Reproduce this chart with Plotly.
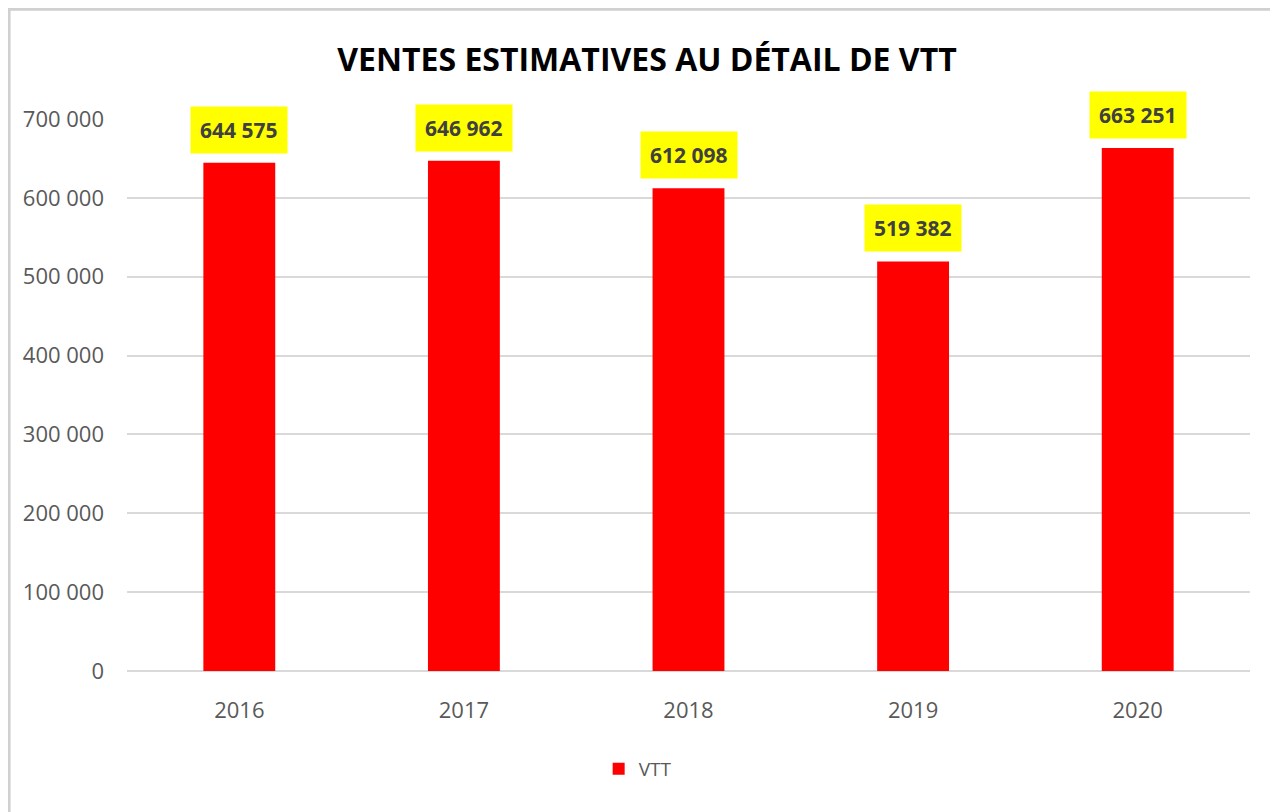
import plotly.graph_objects as go

years = ["2016", "2017", "2018", "2019", "2020"]
ventes = [644575, 646962, 612098, 519382, 663251]
y_ticks = [0, 100000, 200000, 300000, 400000, 500000, 600000, 700000]

FONT = "Open Sans, Noto Sans, sans-serif"
GRAY = "#595959"


def fmt(v):
    return f"{v:,}".replace(",", " ")


fig = go.Figure()
fig.add_trace(
    go.Bar(
        x=years,
        y=ventes,
        name="VTT",
        marker={"color": "#ff0000", "line": {"width": 0}},
        showlegend=True,
    )
)

# yellow data labels above each bar (x as category index)
for i, v in enumerate(ventes):
    fig.add_annotation(
        x=i,
        y=v,
        text=f"<b>{fmt(v)}</b>",
        showarrow=False,
        yanchor="bottom",
        yshift=9,
        bgcolor="#ffff00",
        borderpad=9,
        font={"family": FONT, "size": 21, "color": "#404040"},
    )

# light frame around the chart
fig.add_shape(
    type="rect",
    xref="paper",
    yref="paper",
    x0=-0.105,
    x1=1.05,
    y0=-0.35,
    y1=1.199,
    line={"color": "#d0d0d0", "width": 3},
    fillcolor="rgba(0,0,0,0)",
    layer="below",
)

fig.update_layout(
    width=1278,
    height=812,
    margin={"l": 119, "r": 36, "t": 111, "b": 149},
    paper_bgcolor="white",
    plot_bgcolor="white",
    bargap=0.68,
    title={
        "text": "<b>VENTES ESTIMATIVES AU DÉTAIL DE VTT</b>",
        "x": 0.5,
        "xanchor": "center",
        "y": 0.936,
        "yanchor": "middle",
        "font": {"family": FONT, "size": 32, "color": "#000000"},
    },
    font={"family": FONT, "color": GRAY},
    legend={
        "orientation": "h",
        "x": 0.42,
        "xanchor": "left",
        "y": -0.1775,
        "yanchor": "middle",
        "font": {"size": 19, "color": GRAY},
        "itemwidth": 30,
    },
    xaxis={
        "type": "category",
        "range": [-0.5, len(years) - 0.5],
        "showgrid": False,
        "showline": False,
        "ticks": "",
        "ticklabelstandoff": 24,
        "tickfont": {"size": 22, "color": GRAY},
    },
    yaxis={
        "range": [0, 700000],
        "tickvals": y_ticks,
        "ticktext": [fmt(t) for t in y_ticks],
        "showgrid": True,
        "gridcolor": "#d9d9d9",
        "gridwidth": 1.5,
        "zeroline": True,
        "zerolinecolor": "#d9d9d9",
        "zerolinewidth": 1.5,
        "ticks": "",
        "ticklabelstandoff": 22,
        "tickfont": {"size": 22, "color": GRAY},
    },
)

fig.write_html("out.html")
